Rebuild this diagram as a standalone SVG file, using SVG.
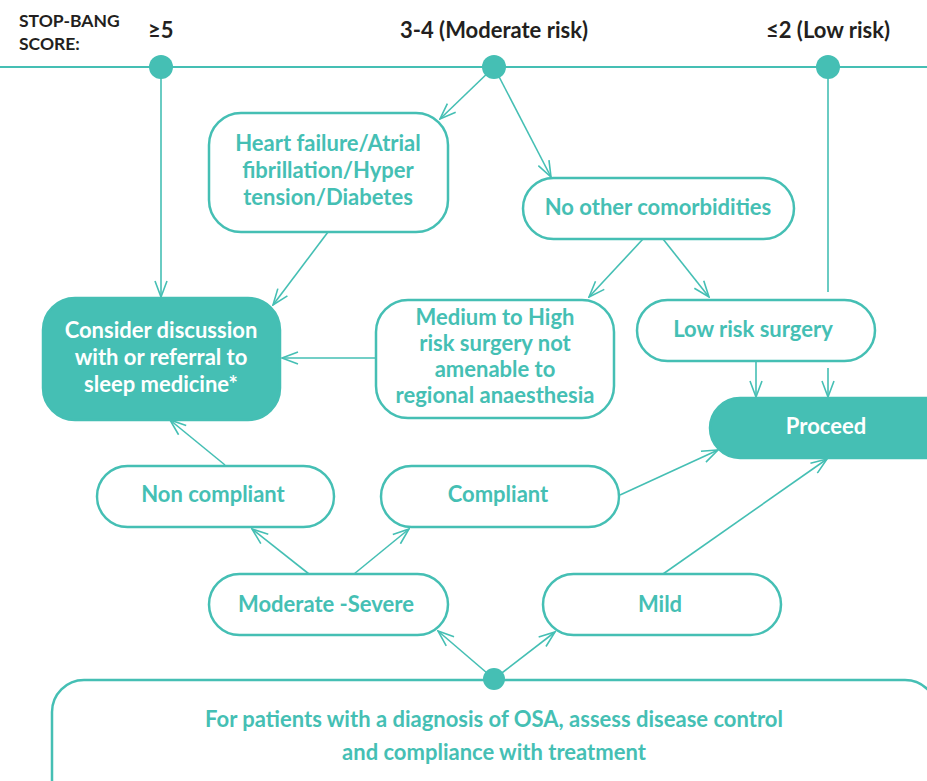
<svg xmlns="http://www.w3.org/2000/svg" width="927" height="781" viewBox="0 0 927 781">
<defs>
<style>
.box{fill:#fff;stroke:#45bfb4;stroke-width:2.5}
.fbox{fill:#45bfb4;stroke:#45bfb4;stroke-width:2.5}
.t{font-family:Lato,"Liberation Sans",sans-serif;font-weight:700;font-size:22px;fill:#45bfb4;text-anchor:middle}
.tw{fill:#fff}
.h{font-family:Lato,"Liberation Sans",sans-serif;font-weight:700;fill:#231f20}
.c{fill:none;stroke:#45bfb4;stroke-width:1.6}
.dot{fill:#45bfb4}
</style>
<marker id="ah" viewBox="0 0 18 14" refX="17" refY="7" markerWidth="18" markerHeight="14" markerUnits="userSpaceOnUse" orient="auto">
<path d="M1,1 L17,7 L1,13" fill="none" stroke="#45bfb4" stroke-width="1.6"/>
</marker>
</defs>
<rect width="927" height="781" fill="#fff"/>
<g id="header">
<text class="h" x="19" y="27" font-size="17.5">STOP-BANG</text>
<text class="h" x="19" y="50" font-size="17.5">SCORE:</text>
<text class="h" x="148" y="38" font-size="22">≥5</text>
<text class="h" x="494" y="38" font-size="22" text-anchor="middle">3-4 (Moderate risk)</text>
<text class="h" x="828" y="38" font-size="22" text-anchor="middle">≤2 (Low risk)</text>
</g>
<g id="connectors">
<line x1="0" y1="67" x2="927" y2="67" stroke="#45bfb4" stroke-width="2"/>
<line class="c" x1="161" y1="67" x2="161" y2="297" marker-end="url(#ah)"/>
<line class="c" x1="494" y1="67" x2="440" y2="119" marker-end="url(#ah)"/>
<line class="c" x1="494" y1="67" x2="551" y2="177" marker-end="url(#ah)"/>
<line class="c" x1="828" y1="67" x2="828" y2="292"/>
<line class="c" x1="328" y1="232" x2="273" y2="305" marker-end="url(#ah)"/>
<line class="c" x1="643" y1="239" x2="589" y2="297" marker-end="url(#ah)"/>
<line class="c" x1="663" y1="239" x2="709" y2="297" marker-end="url(#ah)"/>
<line class="c" x1="376" y1="358" x2="282" y2="358" marker-end="url(#ah)"/>
<line class="c" x1="756" y1="361" x2="756" y2="397" marker-end="url(#ah)"/>
<line class="c" x1="828" y1="368" x2="828" y2="397" marker-end="url(#ah)"/>
<line class="c" x1="225" y1="465" x2="170" y2="420" marker-end="url(#ah)"/>
<line class="c" x1="620" y1="495" x2="718" y2="450" marker-end="url(#ah)"/>
<line class="c" x1="309" y1="574" x2="252" y2="529" marker-end="url(#ah)"/>
<line class="c" x1="354" y1="574" x2="409" y2="529" marker-end="url(#ah)"/>
<line class="c" x1="663" y1="574" x2="827" y2="459" marker-end="url(#ah)"/>
<line class="c" x1="494" y1="679" x2="438" y2="631" marker-end="url(#ah)"/>
<line class="c" x1="494" y1="679" x2="555" y2="632" marker-end="url(#ah)"/>
</g>
<g id="dots">
<circle class="dot" cx="161" cy="67" r="12"/>
<circle class="dot" cx="494" cy="67" r="12"/>
<circle class="dot" cx="828" cy="67" r="12"/>
</g>
<g id="heart-failure">
<rect class="box" x="209" y="113" width="239" height="119" rx="32"/>
<text class="t" x="328" y="151">Heart failure/Atrial</text>
<text class="t" x="328" y="178">fibrillation/Hyper</text>
<text class="t" x="328" y="205">tension/Diabetes</text>
</g>
<g id="no-other">
<rect class="box" x="523" y="178" width="271" height="61" rx="30.5"/>
<text class="t" x="658" y="215">No other comorbidities</text>
</g>
<g id="consider">
<rect class="fbox" x="43" y="298" width="237" height="122" rx="32"/>
<text class="t tw" x="161" y="338">Consider discussion</text>
<text class="t tw" x="161" y="365">with or referral to</text>
<text class="t tw" x="161" y="392">sleep medicine*</text>
</g>
<g id="medium-high">
<rect class="box" x="376" y="300" width="238" height="118" rx="32"/>
<text class="t" x="495" y="325">Medium to High</text>
<text class="t" x="495" y="351">risk surgery not</text>
<text class="t" x="495" y="377">amenable to</text>
<text class="t" x="495" y="403">regional anaesthesia</text>
</g>
<g id="low-risk">
<rect class="box" x="637" y="300" width="238" height="61" rx="30.5"/>
<text class="t" x="753" y="337">Low risk surgery</text>
</g>
<g id="proceed">
<rect class="fbox" x="710" y="398" width="245" height="60" rx="30"/>
<text class="t tw" x="826" y="434">Proceed</text>
</g>
<g id="non-compliant">
<rect class="box" x="97" y="466" width="237" height="61" rx="30.5"/>
<text class="t" x="213" y="502">Non compliant</text>
</g>
<g id="compliant">
<rect class="box" x="381" y="466" width="238" height="61" rx="30.5"/>
<text class="t" x="498" y="502">Compliant</text>
</g>
<g id="moderate-severe">
<rect class="box" x="209" y="574" width="239" height="61" rx="30.5"/>
<text class="t" x="326" y="612">Moderate -Severe</text>
</g>
<g id="mild">
<rect class="box" x="543" y="574" width="238" height="61" rx="30.5"/>
<text class="t" x="660" y="612">Mild</text>
</g>
<g id="osa">
<rect class="box" x="52" y="680" width="885" height="140" rx="32"/>
<circle class="dot" cx="494" cy="679" r="11"/>
<text class="t" x="494" y="727" font-size="21">For patients with a diagnosis of OSA, assess disease control</text>
<text class="t" x="494" y="760" font-size="21">and compliance with treatment</text>
</g>
</svg>
